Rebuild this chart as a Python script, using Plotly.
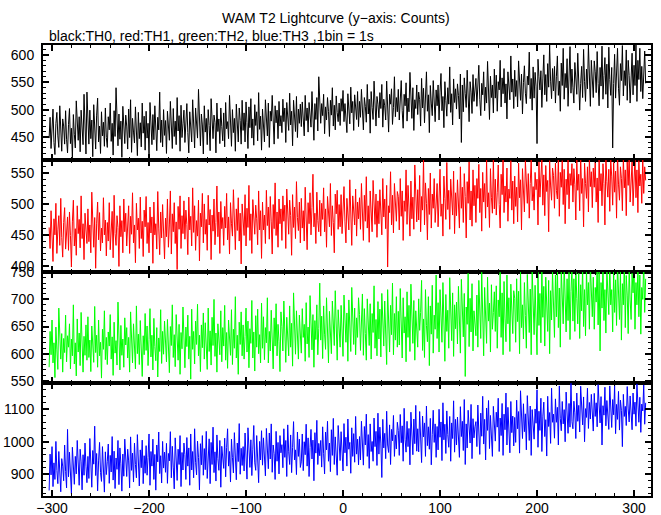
import plotly.graph_objects as go
from plotly.subplots import make_subplots

# time bins (1 bin = 1 s)
time_s = list(range(-303, 313))

th0_black = [
448,486,429,467,501,440,418,475,495,452,431,507,461,424,483,470,437,498,446,421,
473,502,438,466,412,491,455,430,516,471,444,487,423,499,460,436,528,452,419,532,
465,437,499,447,481,414,509,458,428,490,521,441,470,420,496,452,477,433,503,449,
431,487,463,512,442,475,417,498,451,540,468,434,492,446,479,413,506,461,438,490,
470,428,501,449,518,422,484,459,439,505,466,416,495,447,476,432,512,457,488,426,
497,448,475,419,513,460,436,491,445,507,472,425,486,463,532,440,481,432,500,453,
480,420,497,458,444,515,470,429,502,451,479,436,522,461,489,424,508,449,474,499,
440,486,511,458,421,496,470,441,518,465,430,503,478,448,537,462,434,492,472,419,
507,459,484,436,500,471,425,520,466,447,490,477,421,512,460,483,438,503,469,443,
494,432,513,465,478,447,526,471,433,500,458,484,424,510,468,441,503,480,437,517,
462,494,441,514,476,429,505,467,520,448,483,435,509,471,496,443,531,464,488,426,
501,472,441,518,480,452,512,431,497,479,526,461,437,507,476,499,447,515,470,489,
458,519,478,503,440,513,486,462,530,472,497,434,517,484,460,524,449,501,475,510,
469,514,491,452,526,480,503,459,513,488,468,533,494,444,511,482,522,461,560,497,
475,511,489,528,456,505,481,522,497,451,517,490,540,470,508,463,525,495,478,512,
471,520,497,535,478,511,490,458,529,501,474,541,494,515,462,527,499,482,533,469,
515,486,537,498,463,522,506,477,546,492,519,457,533,504,482,552,497,470,524,510,
485,531,502,546,468,519,507,481,552,498,459,528,510,538,473,504,560,487,522,496,
537,481,516,553,498,466,528,507,549,479,521,496,568,509,484,540,462,518,502,545,
491,532,518,470,557,503,539,476,522,569,497,527,458,544,512,489,553,516,478,536,
507,545,481,532,566,498,524,467,551,517,488,540,510,578,495,529,472,556,513,538,
501,547,526,483,565,440,545,496,558,529,504,572,519,478,551,532,493,564,515,541,
557,506,534,581,519,489,548,527,569,498,541,512,588,530,482,561,522,545,494,574,
521,563,497,551,536,590,505,558,529,575,512,547,483,569,538,518,598,532,556,502,
572,524,553,505,589,541,517,565,492,549,580,530,511,561,545,605,520,557,499,578,
521,568,543,438,592,560,536,571,504,556,600,527,564,515,584,541,618,552,520,575,
534,579,512,561,598,526,552,497,585,544,612,519,566,540,593,506,557,615,530,574,
541,512,586,557,528,603,565,499,548,579,522,610,551,515,574,538,618,560,506,590,
560,522,589,569,531,606,548,507,577,543,616,519,562,595,528,583,503,614,555,526,
577,430,548,601,521,566,612,539,508,584,553,617,525,571,544,609,517,590,562,512,
566,603,527,581,544,618,515,590,555,612,533,579,520,569,607,548,
]

th1_red = [
462,428,489,441,407,476,450,501,420,458,481,433,509,446,414,470,494,427,455,479,
425,487,449,398,471,506,432,460,417,497,452,475,429,513,444,468,410,485,458,436,
492,439,466,421,519,455,430,478,396,469,503,442,486,424,461,437,510,450,474,416,
470,440,502,426,459,488,413,514,452,433,481,462,399,497,447,473,421,508,455,485,
432,468,497,420,480,451,518,437,466,405,501,458,477,428,511,444,472,415,490,463,
512,436,470,421,495,453,479,404,503,450,468,427,520,461,418,487,445,499,465,411,
477,447,508,430,466,521,419,484,455,502,436,471,394,496,459,513,428,481,452,505,
443,490,467,418,511,458,480,432,526,454,497,425,473,448,506,408,485,463,517,437,
500,451,475,425,514,466,491,410,482,456,508,434,470,529,447,487,420,504,460,478,
433,496,461,517,442,479,419,502,468,448,523,471,426,492,457,510,440,485,403,500,
478,449,515,432,493,462,530,441,484,420,507,469,451,498,476,434,521,458,489,412,
503,458,482,436,522,465,495,443,512,471,419,499,460,534,449,487,430,508,468,492,
441,513,472,498,428,524,466,451,506,481,417,515,462,495,444,536,478,457,503,437,
509,461,489,440,527,476,426,502,468,518,450,494,548,463,485,436,519,473,455,506,
448,501,475,526,455,492,430,512,478,463,533,449,497,470,421,516,484,522,459,499,
463,515,452,500,528,471,437,509,482,458,539,478,433,513,490,466,524,448,503,476,
510,459,533,487,441,514,472,544,461,497,438,521,480,455,538,492,467,516,446,505,
468,523,493,450,541,479,508,460,530,398,497,486,552,466,514,453,533,489,472,520,
512,458,541,480,521,441,505,488,555,467,530,495,448,537,476,511,459,563,490,471,
523,474,546,455,512,490,572,466,534,501,442,525,483,550,461,516,493,541,470,509,
533,463,514,556,480,500,448,545,509,475,567,491,522,459,540,497,482,553,452,518,
481,539,508,461,560,493,527,470,549,512,445,536,501,568,474,521,464,555,497,530,
470,541,509,564,486,525,456,551,503,533,477,571,495,518,462,557,510,485,572,492,
540,482,519,563,499,461,548,515,571,486,529,503,558,472,524,509,570,490,537,468,
545,496,527,471,566,510,539,458,557,518,487,570,522,501,549,477,533,571,505,528,
490,551,523,540,466,568,511,535,575,498,547,481,562,520,538,455,570,529,506,558,
546,493,566,522,508,575,480,551,527,570,499,556,468,540,515,573,492,549,530,565,
503,557,531,474,572,522,548,489,578,517,541,463,566,533,509,560,487,575,528,552,
494,558,527,568,503,542,470,574,521,549,497,565,533,466,577,536,511,556,488,571,
545,498,567,519,553,477,579,532,506,560,541,489,575,526,555,481,568,530,578,503,
541,568,497,535,576,510,555,486,570,529,548,501,573,517,560,538,
]

th2_green = [
575,641,598,662,583,620,556,649,607,571,684,615,590,637,566,628,602,671,585,633,
612,655,572,627,596,690,581,620,559,664,603,638,578,676,614,566,632,597,653,588,
668,593,625,567,651,609,584,687,602,634,575,662,596,621,555,645,608,679,589,630,
580,640,614,672,590,631,560,658,601,624,579,695,611,570,652,597,627,575,666,616,
648,592,630,566,677,607,583,655,617,572,688,600,636,580,661,612,558,633,598,674,
606,651,578,626,683,594,634,570,665,613,587,648,557,629,604,681,582,641,599,660,
627,585,663,606,565,650,615,690,593,635,576,672,612,588,654,562,639,609,686,596,
574,649,613,671,590,632,553,682,608,641,581,660,617,691,596,634,567,653,611,675,
590,657,623,571,684,604,642,579,667,615,700,595,638,566,655,620,598,679,585,648,
614,689,588,639,573,662,620,597,681,580,645,610,705,592,634,562,658,617,677,596,
653,590,632,684,603,660,574,646,619,698,592,640,568,670,612,682,600,635,583,693,
610,668,589,648,620,703,583,641,605,680,627,572,666,614,692,596,654,623,567,677,
650,605,697,624,584,667,637,596,688,612,656,577,712,628,599,679,641,590,671,618,
601,683,630,654,586,694,618,649,593,707,637,607,672,575,661,626,690,598,646,730,
625,669,591,688,636,608,703,652,583,678,629,600,697,645,615,716,633,588,681,650,
612,689,640,595,708,654,621,675,586,699,636,604,722,648,617,684,598,666,630,703,
672,606,651,710,597,683,637,588,701,645,615,692,590,674,639,725,610,663,596,696,
627,682,594,711,651,614,697,640,580,718,661,603,689,635,730,598,674,625,705,612,
678,616,720,649,592,703,638,668,585,714,630,689,604,728,655,619,698,588,679,642,
612,701,643,676,735,606,664,593,718,652,622,705,578,688,636,726,601,671,645,745,
628,694,603,718,655,621,731,669,586,709,641,680,610,740,660,624,712,595,690,646,
695,618,724,652,601,737,668,631,711,558,686,654,748,613,702,640,729,605,679,661,
633,708,612,735,667,628,750,656,596,722,681,619,741,660,693,603,727,645,676,714,
641,725,610,699,668,750,630,712,598,733,664,622,745,655,703,604,728,676,637,716,
702,621,738,659,715,600,752,648,690,627,731,670,610,746,683,639,719,598,755,661,
635,726,678,598,750,652,711,620,755,667,724,614,741,688,641,735,600,716,662,752,
706,630,745,668,760,648,721,612,757,683,655,765,697,640,738,661,750,626,715,758,
660,738,641,762,702,655,748,628,727,679,760,650,718,633,755,690,731,645,765,697,
668,741,645,722,695,760,653,752,605,731,684,765,661,718,638,756,700,672,768,690,
718,640,752,676,736,652,765,702,663,755,625,729,690,768,648,744,708,637,760,699,
663,748,712,766,645,731,690,761,668,745,636,722,700,770,676,738,
]

th3_blue = [
850,962,898,985,862,935,884,1001,912,871,970,903,846,948,925,880,990,909,858,1038,
892,968,915,840,983,930,869,955,901,1004,921,866,977,938,852,960,897,996,925,874,
955,887,1010,918,860,973,931,1048,896,964,849,941,998,905,878,985,927,845,969,899,
940,993,872,958,907,1016,882,971,856,950,915,1004,868,981,932,848,962,894,1008,921,
893,977,941,858,1015,912,965,876,996,930,889,1022,948,864,975,920,1005,871,957,903,
988,897,952,1024,866,970,925,1008,884,961,851,990,938,1030,902,957,873,1001,919,968,
906,995,872,964,941,1031,889,986,922,855,1012,948,881,977,930,1019,862,967,913,996,
960,884,1013,925,981,866,1024,913,970,889,1040,937,898,1002,951,852,994,929,1019,897,
979,914,1032,887,962,1009,871,998,930,1045,905,969,879,1021,948,912,1004,860,986,932,
918,1011,892,983,1040,925,970,876,1008,951,904,1028,961,883,996,939,1056,900,980,927,
985,910,1027,952,885,1043,968,921,1006,896,977,1050,935,912,1019,960,874,1001,944,1034,
928,1012,960,895,1041,975,917,1027,947,1055,906,990,963,884,1032,940,998,901,1019,966,
991,920,1040,952,1004,893,1052,969,930,1021,905,983,1062,944,975,899,1030,955,1008,921,
938,1024,911,1000,960,1054,925,1012,893,982,1038,947,1005,880,1028,965,1066,930,995,957,
1004,922,1046,963,901,1030,975,1063,940,996,908,1037,958,1072,930,1015,969,897,1050,981,
942,1031,980,910,1056,966,1014,925,1070,977,998,903,1043,955,1025,937,1078,962,1008,929,
1016,944,1063,979,928,1047,990,1085,955,1022,918,1055,970,1001,940,1073,985,1032,927,1088,
962,1045,996,890,1069,981,1026,948,1094,990,967,1052,930,1038,1003,1081,955,1021,978,1060,
1035,958,1084,997,1049,940,1103,1006,968,1063,985,1041,929,1091,1012,960,1070,994,1112,971,
1040,969,1093,1002,936,1079,1015,1058,955,1110,988,1046,977,1072,929,1023,1097,998,1055,952,
1047,975,1100,1014,1061,942,1120,1006,1054,964,1095,1022,983,1078,940,1058,1010,1126,968,1069,
990,1076,1025,952,1108,1016,1063,973,1130,930,1055,981,1097,1028,996,1115,948,1071,1012,1046,
1062,985,1113,1030,961,1088,1017,1140,993,1069,944,1104,1035,1127,979,1081,1026,955,1109,1042,
1002,1091,1045,1134,970,1073,1019,1118,958,1085,1037,1150,990,1106,1051,966,1124,1028,1079,987,
1075,998,1128,1040,1093,965,1157,1052,1010,1117,1031,1086,975,1142,1063,1004,1110,958,1099,1046,
1008,1101,1057,1160,983,1094,1035,1134,970,1079,1122,1016,1068,956,1140,1047,1090,995,1165,1060,
1085,1011,1132,1060,1106,990,1172,1071,1034,1124,1055,1099,1000,1153,1077,1026,1118,1045,1180,1062,
1040,1125,1089,1010,1150,1063,1112,1030,1171,1084,1052,1138,1000,1102,1075,1165,1041,1121,1070,1146,
1097,1033,1149,1078,1120,1046,1176,1090,1058,1139,990,1111,1082,1168,1049,1127,1093,1038,1172,1101,
1044,1130,1083,1174,1025,1115,1069,1155,1036,1128,1097,985,1146,1078,1109,1050,1170,1101,1061,1141,
1103,1037,1150,1085,1122,1048,1178,1093,1060,1137,1029,1116,1095,1175,1054,1120,
]

series = [
    ("TH0", th0_black, "#000000"),
    ("TH1", th1_red, "#ff0000"),
    ("TH2", th2_green, "#00ff00"),
    ("TH3", th3_blue, "#0000ff"),
]
for name, vals, _ in series:
    assert len(vals) == len(time_s), (name, len(vals), len(time_s))

y_ranges = [[408, 618], [390, 571], [546, 750.5], [833, 1181]]
y_major = [50, 50, 50, 100]
y_minor = [10, 10, 10, 20]
# panel pixel heights from the top: 115, 112, 111, 113 (sum 451)
domains = [[0.745, 1.0], [0.4967, 0.745], [0.2506, 0.4967], [0.0, 0.2506]]

title_text = "WAM T2 Lightcurve (y\u2212axis: Counts)"
subtitle_text = "black:TH0, red:TH1, green:TH2, blue:TH3 ,1bin = 1s"

FONT = "Liberation Sans, Arial, Helvetica, sans-serif"

fig = make_subplots(rows=4, cols=1, shared_xaxes=True, vertical_spacing=0)

for i, (name, vals, color) in enumerate(series):
    r = i + 1
    fig.add_trace(
        go.Scatter(x=time_s, y=vals, mode="lines", name=name,
                   line=dict(color=color, width=1), hoverinfo="skip"),
        row=r, col=1,
    )
    fig.update_xaxes(
        range=[-309.3, 317.5], tick0=0, dtick=100,
        ticks="inside", ticklen=6, tickwidth=2, tickcolor="black",
        minor=dict(dtick=20, ticks="inside", ticklen=3, tickwidth=1, tickcolor="black"),
        showline=True, linecolor="black", linewidth=2, mirror="allticks",
        showgrid=False, zeroline=False, automargin=False,
        showticklabels=(r == 4),
        ticklabelstandoff=-2,
        tickfont=dict(family=FONT, size=14, color="black"),
        row=r, col=1,
    )
    fig.update_yaxes(
        range=y_ranges[i], tick0=0, dtick=y_major[i],
        ticks="inside", ticklen=6, tickwidth=2, tickcolor="black",
        minor=dict(dtick=y_minor[i], ticks="inside", ticklen=3, tickwidth=1, tickcolor="black"),
        showline=True, linecolor="black", linewidth=2, mirror="allticks",
        showgrid=False, zeroline=False, automargin=False,
        ticklabelstandoff=4,
        tickfont=dict(family=FONT, size=14, color="black"),
        domain=domains[i],
        row=r, col=1,
    )

fig.update_layout(
    width=661, height=515,
    margin=dict(l=43, r=10, t=45, b=19, autoexpand=False),
    paper_bgcolor="white", plot_bgcolor="white",
    showlegend=False,
    font=dict(family=FONT, size=14, color="black"),
    annotations=[
        dict(text=title_text, xref="paper", yref="paper", x=0.482, y=1.06,
             xanchor="center", yanchor="middle", showarrow=False,
             font=dict(family=FONT, size=14, color="black")),
        dict(text=subtitle_text, xref="paper", yref="paper", x=0.0066, y=1.02,
             xanchor="left", yanchor="middle", showarrow=False,
             font=dict(family=FONT, size=14, color="black")),
    ],
)

# remove the browser's default 8 px body margin so the figure sits at (0, 0)
fig.write_html(
    "out.html",
    config={"displayModeBar": False},
    post_script="document.body.style.margin='0px';document.body.style.overflow='hidden';",
)
